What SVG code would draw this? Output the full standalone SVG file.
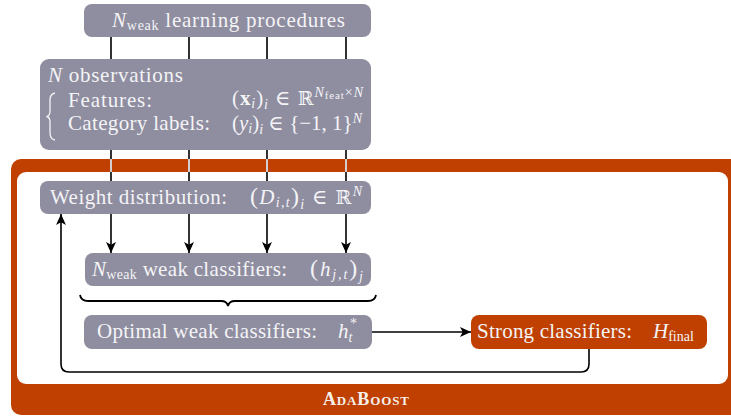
<svg xmlns="http://www.w3.org/2000/svg" width="731" height="416" viewBox="0 0 731 416">
<style>
.box{fill:#8f8da0}
.obox{fill:#bf4000}
.t{font-family:"Liberation Serif","DejaVu Serif",serif;font-size:21px;fill:#f4f4f6}
.m{font-style:italic}
.s{font-size:14px}
.ln{stroke:#000;stroke-width:1.6;fill:none}
.wl{stroke:#fff;stroke-width:1.6;fill:none}
.br{stroke:#f4f4f6;stroke-width:1.3;fill:none}
</style>
<defs>
<marker id="ah" viewBox="0 0 10 10" refX="10" refY="5" markerWidth="11" markerHeight="11" markerUnits="userSpaceOnUse" orient="auto">
<path d="M0,0.5 L10,5 L0,9.5 L2.5,5 Z" fill="#000"/>
</marker>
</defs>

<g id="adaboost-frame">
<rect x="11" y="159" width="730" height="256" rx="10" fill="#bf4000"/>
<rect x="17" y="172" width="711" height="212" rx="9" fill="#fff"/>
<text x="366" y="405" text-anchor="middle" textLength="86" style="font-family:'Liberation Serif','DejaVu Serif',serif;font-size:18px;font-weight:bold;fill:#f6f0ea;font-variant:small-caps">AdaBoost</text>
</g>

<g id="connectors">
<path class="ln" d="M111,37V59M189,37V59M267,37V59M346,37V59"/>
<path class="ln" d="M111,150V181M189,150V181M267,150V181M346,150V181"/>
<path class="wl" d="M111,159V172M189,159V172M267,159V172M346,159V172"/>
<path class="ln" marker-end="url(#ah)" d="M111,214V253"/>
<path class="ln" marker-end="url(#ah)" d="M189,214V253"/>
<path class="ln" marker-end="url(#ah)" d="M267,214V253"/>
<path class="ln" marker-end="url(#ah)" d="M346,214V253"/>
<path d="M80,295 Q81,301 88,301 H221 Q227,301 228,306 Q229,301 235,301 H368 Q375,301 376,295" stroke="#000" stroke-width="1.8" fill="none"/>
<path class="ln" marker-end="url(#ah)" d="M372,332H471"/>
<path class="ln" marker-end="url(#ah)" d="M589,349V364Q589,372 581,372H69Q61,372 61,364V214"/>
</g>

<g id="node-procedures">
<rect class="box" x="84" y="4" width="287" height="33" rx="8"/>
<text class="t" x="112" y="27" textLength="233"><tspan class="m">N</tspan><tspan class="s" dy="3">weak</tspan><tspan dy="-3"> learning procedures</tspan></text>
</g>

<g id="node-observations">
<rect class="box" x="40" y="59" width="331" height="91" rx="9"/>
<text class="t" x="48" y="82" textLength="135"><tspan class="m">N</tspan> observations</text>
<path class="br" d="M55,93 Q50,94 50,100 V111 Q50,116 46.5,116.5 Q50,117 50,122 V133 Q50,139 55,140"/>
<text class="t" x="68" y="107" textLength="84">Features:</text>
<text class="t" x="68" y="130" textLength="142">Category labels:</text>
<text class="t" x="232" y="105" textLength="131">(<tspan font-weight="bold">x</tspan><tspan class="m s" dy="3">i</tspan><tspan dy="-3">)</tspan><tspan class="m s" dy="4">i</tspan><tspan dy="-4"> ∈ </tspan><tspan font-family="DejaVu Serif" font-size="19">ℝ</tspan><tspan class="m s" dy="-8">N</tspan><tspan font-size="11" dy="2">feat</tspan><tspan class="s" dy="-2">×</tspan><tspan class="m s">N</tspan></text>
<text class="t" x="232" y="130" textLength="130">(<tspan class="m">y</tspan><tspan class="m s" dy="3">i</tspan><tspan dy="-3">)</tspan><tspan class="m s" dy="4">i</tspan><tspan dy="-4"> ∈ {−1, 1}</tspan><tspan class="m s" dy="-7">N</tspan></text>
</g>

<g id="node-weights">
<rect class="box" x="40" y="181" width="331" height="33" rx="8"/>
<text class="t" x="50" y="204" textLength="177">Weight distribution:</text>
<text class="t" x="250" y="204" textLength="112"><tspan font-size="24">(</tspan><tspan class="m">D</tspan><tspan class="m s" dy="3">i,t</tspan><tspan font-size="24" dy="-3">)</tspan><tspan class="m s" dy="5">i</tspan><tspan dy="-5">  ∈ </tspan><tspan font-family="DejaVu Serif" font-size="19">ℝ</tspan><tspan class="m s" dy="-8">N</tspan></text>
</g>

<g id="node-weak">
<rect class="box" x="85" y="253" width="286" height="33" rx="8"/>
<text class="t" x="92" y="276" textLength="195"><tspan class="m">N</tspan><tspan class="s" dy="3">weak</tspan><tspan dy="-3"> weak classifiers:</tspan></text>
<text class="t" x="310" y="276" textLength="53"><tspan font-size="24">(</tspan><tspan class="m">h</tspan><tspan class="m s" dy="3">j,t</tspan><tspan font-size="24" dy="-3">)</tspan><tspan class="m s" dy="5">j</tspan></text>
</g>

<g id="node-optimal">
<rect class="box" x="84" y="315" width="288" height="34" rx="8"/>
<text class="t" x="97" y="338" textLength="220">Optimal weak classifiers:</text>
<text class="t" x="338" y="338"><tspan class="m">h</tspan><tspan class="m s" dy="4">t</tspan></text>
<text class="t s" x="350" y="328">*</text>
</g>

<g id="node-strong">
<rect class="obox" x="471" y="315" width="236" height="34" rx="8"/>
<text class="t" x="477" y="338" textLength="155">Strong classifiers:</text>
<text class="t" x="653" y="338"><tspan class="m">H</tspan><tspan class="s" dy="3">final</tspan></text>
</g>
</svg>
